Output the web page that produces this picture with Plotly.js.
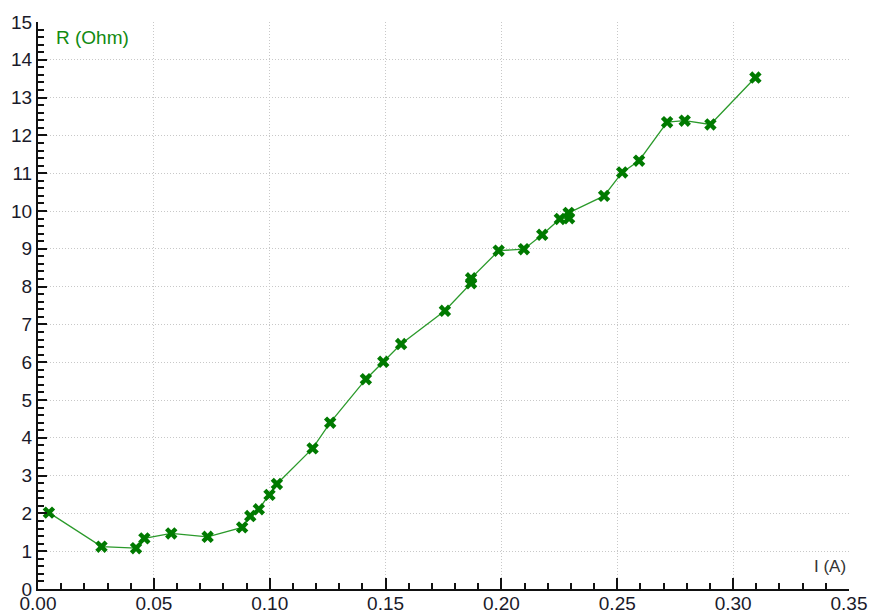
<!DOCTYPE html>
<html>
<head>
<meta charset="utf-8">
<script src="https://cdn.plot.ly/plotly-3.0.1.min.js"></script>
<style>html,body{margin:0;padding:0;background:#fff;}#chart{width:870px;height:614px;}</style>
</head>
<body>
<div id="chart"></div>
<script>
const currentA = [0.0047, 0.0274, 0.0423, 0.0459, 0.0575, 0.0732, 0.0881, 0.0916, 0.0953, 0.0999, 0.1031,
  0.1185, 0.1261, 0.1415, 0.1490, 0.1567, 0.1756, 0.1869, 0.1869, 0.1988, 0.2097, 0.2176, 0.2252, 0.2292, 0.2290,
  0.2443, 0.2521, 0.2594, 0.2715, 0.2791, 0.2902, 0.3096];
const resistanceOhm = [2.02, 1.12, 1.08, 1.34, 1.47, 1.38, 1.63, 1.93, 2.11, 2.49, 2.78,
  3.72, 4.40, 5.55, 6.01, 6.48, 7.36, 8.09, 8.22, 8.95, 8.99, 9.37, 9.79, 9.81, 9.95,
  10.40, 11.02, 11.33, 12.35, 12.39, 12.29, 13.53];
const xTickLabels = ['0.00','0.05','0.10','0.15','0.20','0.25','0.30','0.35'];
const yTickLabels = ['0','1','2','3','4','5','6','7','8','9','10','11','12','13','14','15'];

const tickFont = {family: 'Liberation Sans, Arial, sans-serif', size: 19, color: '#1a1a2a'};

const trace = {
  x: currentA, y: resistanceOhm, type: 'scatter', mode: 'lines+markers',
  line: {color: '#2b9a2b', width: 1.3},
  marker: {symbol: 'x', size: 11, color: '#007a00', line: {width: 0}},
  hoverinfo: 'none'
};

const layout = {
  width: 870, height: 614,
  margin: {l: 38, r: 21, t: 22, b: 25, pad: 0},
  paper_bgcolor: '#fff', plot_bgcolor: '#fff',
  showlegend: false,
  xaxis: {
    range: [0, 0.35], tickmode: 'array',
    tickvals: xTickLabels.map(Number), ticktext: xTickLabels,
    ticks: 'inside', ticklen: 11, tickwidth: 2, tickcolor: '#111',
    showline: true, linecolor: '#111', linewidth: 2,
    showgrid: true, gridcolor: '#c8c8c8', gridwidth: 1, griddash: '1px,2px',
    zeroline: false, tickfont: tickFont, ticklabelstandoff: -4,
    minor: {dtick: 0.01, ticks: 'inside', ticklen: 6, tickwidth: 2, tickcolor: '#111', showgrid: false},
    fixedrange: true
  },
  yaxis: {
    range: [0, 15], tickmode: 'array',
    tickvals: yTickLabels.map(Number), ticktext: yTickLabels,
    ticks: 'inside', ticklen: 9, tickwidth: 2, tickcolor: '#111',
    showline: true, linecolor: '#111', linewidth: 2,
    showgrid: true, gridcolor: '#c8c8c8', gridwidth: 1, griddash: '1px,2px',
    zeroline: false, tickfont: tickFont,
    minor: {dtick: 0.2, ticks: 'inside', ticklen: 6, tickwidth: 2, tickcolor: '#111', showgrid: false},
    fixedrange: true
  },
  annotations: [
    {text: 'R (Ohm)', xref: 'paper', yref: 'paper', x: 0.02, y: 0.995, xanchor: 'left', yanchor: 'top',
     showarrow: false, font: {family: 'Liberation Sans, Arial, sans-serif', size: 19, color: '#118a11'}},
    {text: 'I (A)', xref: 'paper', yref: 'paper', x: 0.999, y: 0.02, xanchor: 'right', yanchor: 'bottom',
     showarrow: false, font: {family: 'Liberation Sans, Arial, sans-serif', size: 17, color: '#333'}}
  ]
};

Plotly.newPlot('chart', [trace], layout, {displayModeBar: false, staticPlot: true});
</script>
</body>
</html>
